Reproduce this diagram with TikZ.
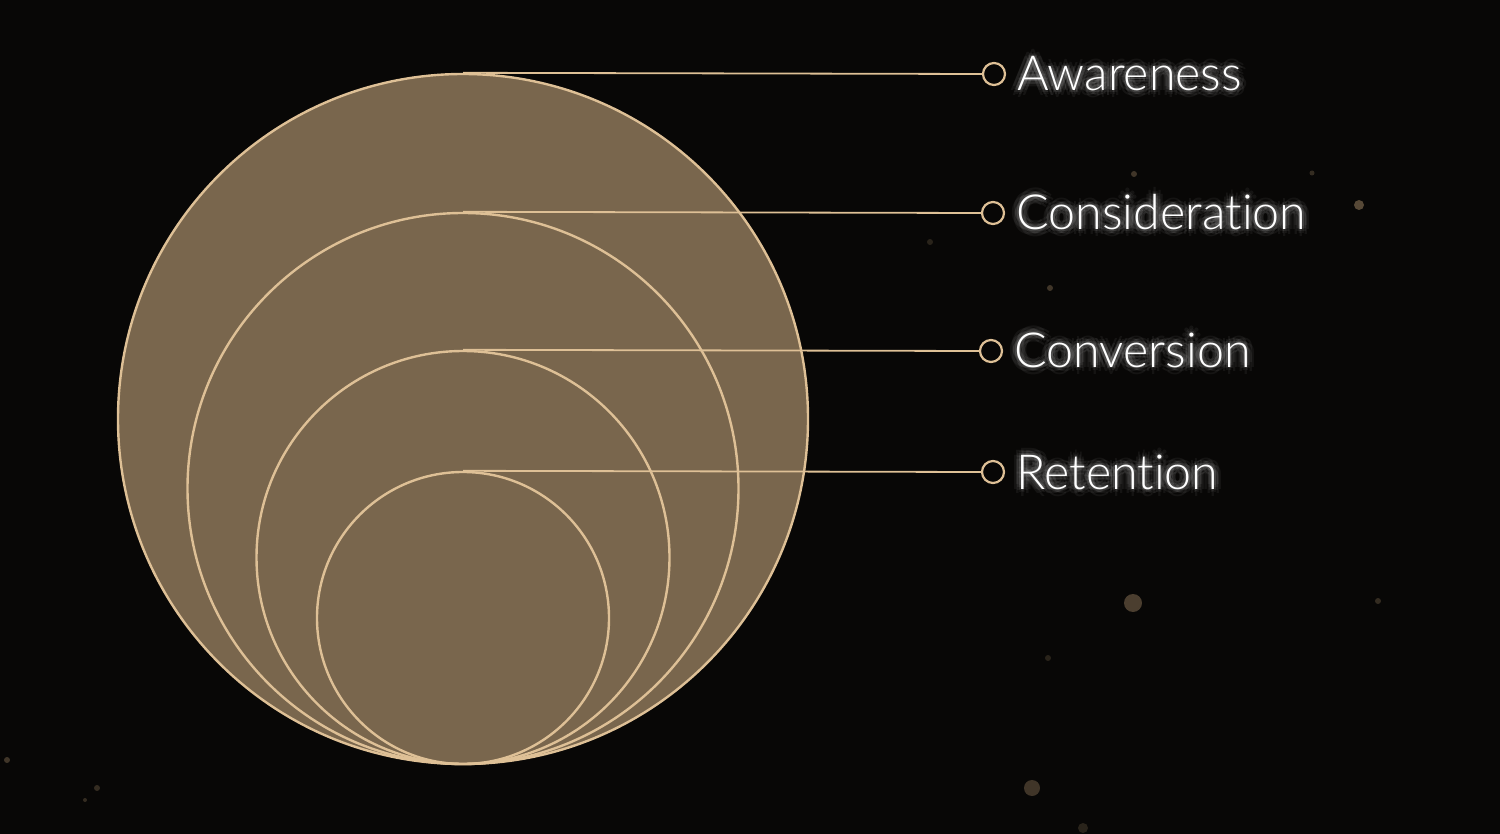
\documentclass[tikz,border=0pt]{standalone}
\usepackage{fontspec}
\usetikzlibrary{calc}
\newfontfamily\lblfont{Lato Light}[RawFeature={-liga;-dlig;-clig}]
\begin{document}
\begin{tikzpicture}[x=0.5pt,y=-0.5pt,
  ring/.style={circle,draw=ringc,line width=1.2pt,inner sep=0pt,fill=fillc},
  ringo/.style={circle,draw=ringc,line width=1.2pt,inner sep=0pt},
  dot/.style={circle,draw=ringc,line width=1.1pt,inner sep=0pt,minimum size=11pt,fill=bgc},
  conn/.style={draw=ringc,line width=0.9pt},
  lblfnt/.style={font=\lblfont\fontsize{24.2}{29}\selectfont},
  lbl/.style={lblfnt,anchor=base west,inner sep=0pt,text=white},
  glow/.style={lblfnt,anchor=base west,inner sep=0pt,text=white,opacity=0.055}]
\definecolor{bgc}{RGB}{8,7,6}
\definecolor{fillc}{RGB}{121,102,77}
\definecolor{ringc}{RGB}{222,192,150}
\definecolor{starc}{RGB}{120,100,75}
\fill[bgc] (0,0) rectangle (1500,834);
\useasboundingbox (0,0) rectangle (1500,834);
% faint background dots
\foreach \x/\y/\r/\o in {1133/603/9/0.6,1359/205/5/0.7,1032/788/8/0.5,1050/288/3/0.5,1134/174/3/0.5,1312/173/2.5/0.4,1378/601/3/0.4,930/242/3/0.3,1048/658/3/0.3,753/285/5/0.5,530/112/6/0.3,7/760/3/0.5,97/788/3/0.4,85/800/2/0.4,1083/828/5/0.3}
  \fill[starc,opacity=\o] (\x,\y) circle[radius=\r];
% circles
\node[ring,minimum size=345pt] (c1) at (463,419) {};
\node[ringo,minimum size=275.5pt] (c2) at (463,488.5) {};
\node[ringo,minimum size=206.5pt] (c3) at (463,557.5) {};
\node[ringo,minimum size=146pt] (c4) at (463,618) {};
% connector ends
\node[dot] (d1) at (994,74) {};
\node[dot] (d2) at (993,213) {};
\node[dot] (d3) at (991,351) {};
\node[dot] (d4) at (993,472) {};
\path[conn] (c1.north) -- (d1.west);
\path[conn] (c2.north) -- (d2.west);
\path[conn] (c3.north) -- (d3.west);
\path[conn] (c4.north) -- (d4.west);
% soft glow behind labels
\foreach \t/\x/\y in {Awareness/1017/91,Consideration/1016/230,Conversion/1014/367,Retention/1016/489}{
  \foreach \a in {0,45,...,315}{
    \node[glow] at ($(\x,\y)+(\a:7)$) {\t};
    \node[glow] at ($(\x,\y)+(\a+22.5:4)$) {\t};
    \node[glow] at ($(\x,\y)+(\a:2)$) {\t};
  }
}
% labels
\node[lbl] (t1) at (1017,91) {Awareness};
\node[lbl] (t2) at (1016,230) {Consideration};
\node[lbl] (t3) at (1014,367) {Conversion};
\node[lbl] (t4) at (1016,489) {Retention};
\end{tikzpicture}
\end{document}
